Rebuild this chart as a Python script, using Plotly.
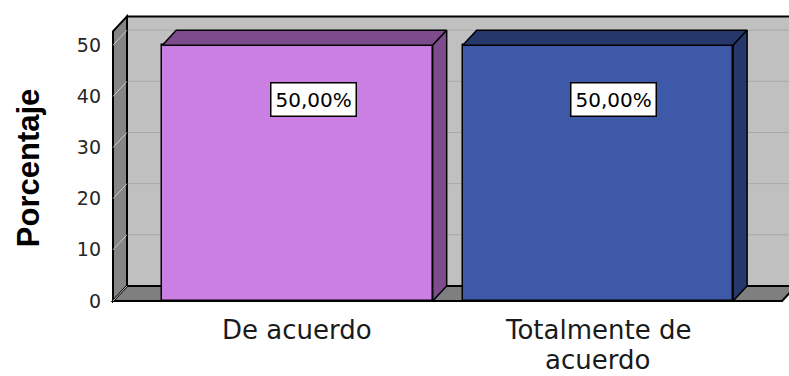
import plotly.graph_objects as go

# ---- data -------------------------------------------------------------
categories = ["De acuerdo", "Totalmente de\nacuerdo"]
percentages = [50.0, 50.0]
value_labels = ["50,00%", "50,00%"]
y_ticks = [0, 10, 20, 30, 40, 50]

# ---- styling ----------------------------------------------------------
front_colors = ["#CC7FE3", "#3D59A7"]
shade_colors = ["#7E4C8D", "#26376B"]
WALL_COLOR = "#C0C0C0"
FLOOR_COLOR = "#7F7F7F"
SIDE_COLOR = "#858585"
GRID_COLOR = "#A9A9A9"
EDGE = "black"

W, H = 789, 376
M_L, M_R, M_T, M_B = 110, 0, 14, 73
X_RANGE = [-0.624, 1.636]
Y_RANGE = [-0.4, 56.1]
px_x = (W - M_L - M_R) / (X_RANGE[1] - X_RANGE[0])
px_y = (H - M_T - M_B) / (Y_RANGE[1] - Y_RANGE[0])

DX = 14 / px_x          # depth offset, horizontal
DY = 15 / px_y          # depth offset, vertical
BAR_W = 0.9
WALL_TOP = 52.7
X0 = -0.614             # front-left corner of the floor
XR = 1.613              # front-right corner of the floor
X1 = X_RANGE[1] + 0.2

fig = go.Figure()
shapes = []


def path(xs, ys):
    pts = " L ".join(f"{x},{y}" for x, y in zip(xs, ys))
    return f"M {pts} Z"


def wall(xs, ys, fill, line_w=2):
    shapes.append(dict(type="path", path=path(xs, ys), xref="x", yref="y",
                       fillcolor=fill, line=dict(color=EDGE, width=line_w),
                       layer="below"))


def rule(x0, y0, x1, y1, color, width=1):
    shapes.append(dict(type="line", x0=x0, y0=y0, x1=x1, y1=y1,
                       xref="x", yref="y", line=dict(color=color, width=width),
                       layer="below"))


# back wall with horizontal gridlines
wall([X0 + DX, X1, X1, X0 + DX], [DY, DY, WALL_TOP + DY, WALL_TOP + DY],
     WALL_COLOR)
for t in y_ticks[1:]:
    rule(X0 + DX, t + DY, X1, t + DY, GRID_COLOR)

# left side wall with its slanted tick marks
wall([X0, X0, X0 + DX, X0 + DX], [0, WALL_TOP, WALL_TOP + DY, DY], SIDE_COLOR)
for t in y_ticks[1:]:
    rule(X0, t, X0 + DX, t + DY, "#C8C8C8")

# floor
wall([X0, XR, XR + DX, X0 + DX], [0, 0, DY, DY], FLOOR_COLOR)
rule(X0, 0, X0 + DX, DY, "#C8C8C8")

# bar front faces
fig.add_trace(go.Bar(
    x=list(range(len(categories))), y=percentages, width=BAR_W,
    marker=dict(color=front_colors, line=dict(color=EDGE, width=1.5)),
    hoverinfo="skip", showlegend=False,
))


def face(xs, ys, fill):
    fig.add_trace(go.Scatter(
        x=list(xs) + [xs[0]], y=list(ys) + [ys[0]],
        mode="lines", fill="toself", fillcolor=fill,
        line=dict(color=EDGE, width=1.5),
        hoverinfo="skip", showlegend=False,
    ))


# bar top and side faces
for i, v in enumerate(percentages):
    l, r = i - BAR_W / 2, i + BAR_W / 2
    face([l, r, r + DX, l + DX], [v, v, v + DY, v + DY], shade_colors[i])
    face([r, r, r + DX, r + DX], [0, v, v + DY, DY], shade_colors[i])

annotations = []

# value labels
for i, (v, txt) in enumerate(zip(percentages, value_labels)):
    annotations.append(dict(
        x=i + 0.053, y=v - 10.7, xref="x", yref="y", text=txt,
        showarrow=False, bgcolor="white", bordercolor=EDGE, borderwidth=1.5,
        borderpad=4, font=dict(family="DejaVu Sans", size=20, color="black"),
    ))

# category labels, one annotation per text line
LINE_SHIFTS = [-29.5, -75]
for i, cat in enumerate(categories):
    for j, line in enumerate(cat.split("\n")):
        annotations.append(dict(
            x=i, y=0, xref="x", yref="y", text=line, showarrow=False,
            xanchor="center", yanchor="middle" if j == 0 else "bottom",
            yshift=LINE_SHIFTS[j], borderpad=0,
            font=dict(family="DejaVu Sans", size=26, color="#1a1a1a"),
        ))

# y-axis title
annotations.append(dict(
    x=-0.1208, y=0.47, xref="paper", yref="paper", text="<b>Porcentaje</b>",
    textangle=-90, showarrow=False, xanchor="center", yanchor="middle",
    font=dict(family="Liberation Sans, Arial", size=31, color="black"),
))

fig.update_layout(
    width=W, height=H,
    margin=dict(l=M_L, r=M_R, t=M_T, b=M_B),
    paper_bgcolor="white", plot_bgcolor="white",
    annotations=annotations, shapes=shapes,
    bargap=0,
    xaxis=dict(range=X_RANGE, showgrid=False, zeroline=False,
               showticklabels=False, showline=False, fixedrange=True),
    yaxis=dict(range=Y_RANGE, showgrid=False, zeroline=False, showline=False,
               tickmode="array", tickvals=y_ticks,
               ticktext=[str(t) for t in y_ticks], ticks="",
               ticklabelstandoff=8,
               tickfont=dict(family="DejaVu Sans", size=19, color="#262626"),
               fixedrange=True),
)

fig.write_html("out.html", config={"displayModeBar": False})
